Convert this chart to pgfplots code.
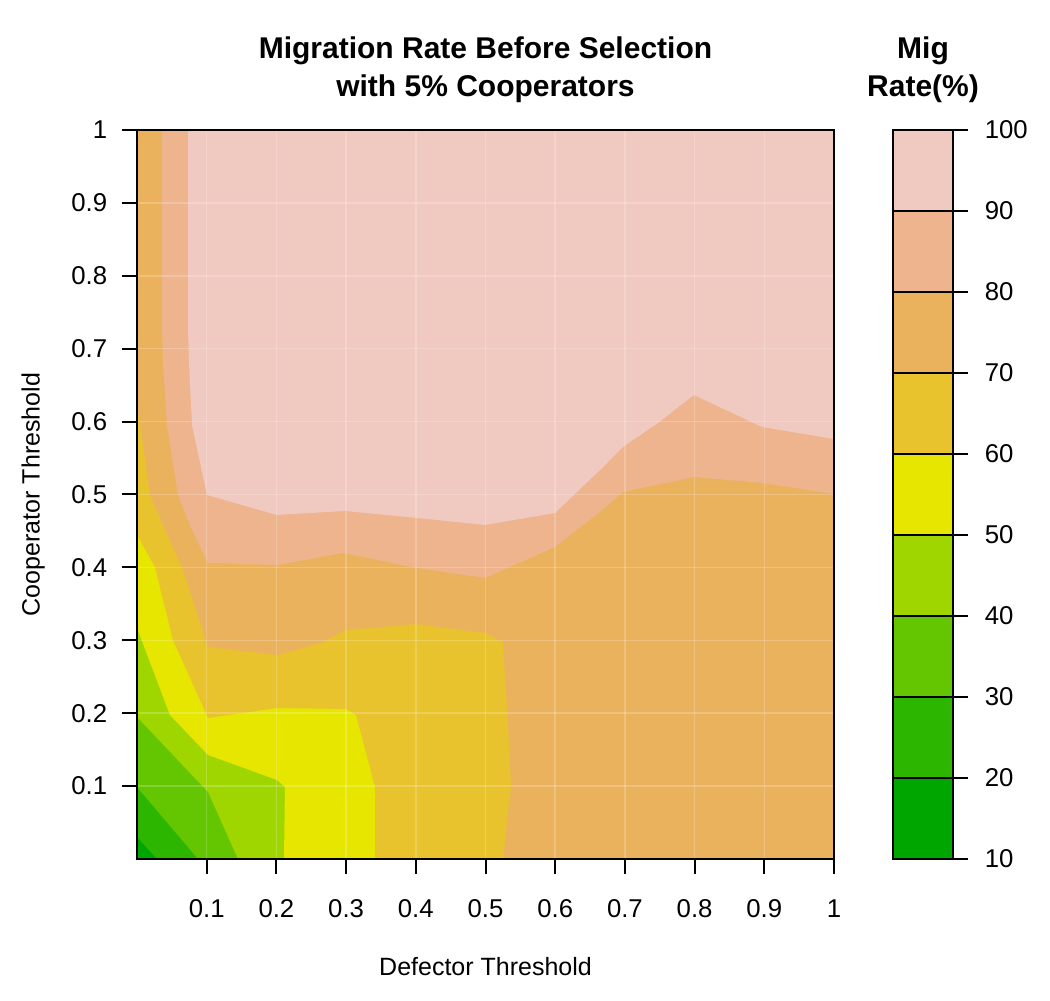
\documentclass[border=0pt]{standalone}
\usepackage{pgfplots}
\pgfplotsset{compat=1.18}
\usepackage{fontspec}
\setmainfont{Liberation Sans}
\definecolor{c1}{HTML}{00A600}
\definecolor{c2}{HTML}{2DB600}
\definecolor{c3}{HTML}{63C600}
\definecolor{c4}{HTML}{A0D600}
\definecolor{c5}{HTML}{E6E600}
\definecolor{c6}{HTML}{E8C32E}
\definecolor{c7}{HTML}{EBB25E}
\definecolor{c8}{HTML}{EDB48E}
\definecolor{c9}{HTML}{F0C9C0}
\begin{document}
\begin{tikzpicture}
\useasboundingbox (0,0) rectangle (420pt,400.4pt);
\begin{axis}[
  at={(54.8pt,56.8pt)}, anchor=south west,
  scale only axis, width=278.8pt, height=291.6pt,
  xmin=0, xmax=1, ymin=0, ymax=1,
  axis on top,
  xtick={0.1,0.2,0.3,0.4,0.5,0.6,0.7,0.8,0.9,1},
  ytick={0.1,0.2,0.3,0.4,0.5,0.6,0.7,0.8,0.9,1},
  tick align=outside, major tick length=6pt,
  xtick pos=left, ytick pos=left,
  tick style={black, line width=0.8pt},
  axis line style={line width=0.8pt},
  grid=major, grid style={white, opacity=0.2, line width=0.6pt},
  tick label style={font=\fontsize{10.3}{12}\selectfont},
  xticklabel style={yshift=-6.8pt},
  yticklabel style={xshift=-2.4pt},
  /pgf/number format/assume math mode=true,
  xlabel={Defector Threshold}, ylabel={Cooperator Threshold},
  label style={font=\fontsize{10}{12}\selectfont},
  xlabel style={at={(axis description cs:0.5,-0.148)}, anchor=center},
  ylabel style={at={(axis description cs:-0.149,0.5)}, anchor=center},
  title={Migration Rate Before Selection\\with 5\% Cooperators},
  title style={at={(axis description cs:0.5,1.0624)}, anchor=center, align=center, font=\bfseries\fontsize{12}{15}\selectfont},
]
% 10-20
\addplot[fill=c1, draw=none] coordinates {(0,0) (1,0) (1,1) (0,1)} -- cycle;
% >=20
\addplot[fill=c2, draw=none] coordinates {(0,0.0302) (0.0287,0) (1,0) (1,1) (0,1)} -- cycle;
% >=30
\addplot[fill=c3, draw=none] coordinates {(0,0.0988) (0.0875,0) (1,0) (1,1) (0,1)} -- cycle;
% >=40
\addplot[fill=c4, draw=none] coordinates {(0,0.1948) (0.1019,0.0919) (0.1449,0) (1,0) (1,1) (0,1)} -- cycle;
% >=50
\addplot[fill=c5, draw=none] coordinates {(0,0.3169) (0.0473,0.1975) (0.1019,0.1427) (0.2009,0.1084) (0.2123,0.0988) (0.2109,0) (1,0) (1,1) (0,1)} -- cycle;
% >=60
\addplot[fill=c6, draw=none] coordinates {(0,0.4444) (0.0258,0.4005) (0.0516,0.3004) (0.1019,0.1934) (0.2009,0.2071) (0.2999,0.2058) (0.3142,0.1975) (0.3415,0.0988) (0.3415,0) (1,0) (1,1) (0,1)} -- cycle;
% >=70
\addplot[fill=c7, draw=none] coordinates {(0,0.62) (0.0043,0.5981) (0.0187,0.4993) (0.0402,0.4513) (0.0646,0.4005) (0.1019,0.2908) (0.2009,0.2798) (0.2626,0.2963) (0.2999,0.3141) (0.4003,0.3224) (0.4993,0.31) (0.5251,0.2977) (0.5323,0.1866) (0.5366,0.0988) (0.5251,0) (1,0) (1,1) (0,1)} -- cycle;
% >=80
\addplot[fill=c8, draw=none] coordinates {(0.0359,1) (0.0359,0.7257) (0.0373,0.6804) (0.043,0.5953) (0.0588,0.4993) (0.0789,0.4513) (0.1019,0.406) (0.2009,0.4033) (0.2956,0.4198) (0.4017,0.3992) (0.4993,0.3855) (0.5997,0.428) (0.6643,0.476) (0.6973,0.5034) (0.7991,0.524) (0.8967,0.5158) (1,0.5007) (1,1)} -- cycle;
% >=90
\addplot[fill=c9, draw=none] coordinates {(0.0732,1) (0.0732,0.7257) (0.0746,0.6804) (0.0789,0.5953) (0.1004,0.4993) (0.2009,0.4719) (0.2984,0.4774) (0.4017,0.4678) (0.4993,0.4582) (0.5997,0.4746) (0.6643,0.5336) (0.6973,0.5652) (0.7475,0.5981) (0.7991,0.6365) (0.8967,0.5926) (1,0.5761) (1,1)} -- cycle;
\end{axis}
\begin{axis}[
  at={(357.2pt,56.8pt)}, anchor=south west,
  scale only axis, width=24pt, height=291.6pt,
  xmin=0, xmax=1, ymin=10, ymax=100,
  axis on top,
  xtick=\empty,
  ytick={10,20,30,40,50,60,70,80,90,100},
  ytick pos=right, yticklabel pos=right,
  tick align=outside, major tick length=6pt,
  tick style={black, line width=0.8pt},
  axis line style={line width=0.8pt},
  tick label style={font=\fontsize{10.3}{12}\selectfont},
  yticklabel style={xshift=3.2pt},
  /pgf/number format/assume math mode=true,
  title={Mig\\Rate(\%)},
  title style={at={(axis description cs:0.5,1.0624)}, anchor=center, align=center, font=\bfseries\fontsize{12}{15}\selectfont},
]
\addplot[fill=c1, draw=black, line width=0.6pt] coordinates {(0,10) (1,10) (1,20) (0,20)} -- cycle;
\addplot[fill=c2, draw=black, line width=0.6pt] coordinates {(0,20) (1,20) (1,30) (0,30)} -- cycle;
\addplot[fill=c3, draw=black, line width=0.6pt] coordinates {(0,30) (1,30) (1,40) (0,40)} -- cycle;
\addplot[fill=c4, draw=black, line width=0.6pt] coordinates {(0,40) (1,40) (1,50) (0,50)} -- cycle;
\addplot[fill=c5, draw=black, line width=0.6pt] coordinates {(0,50) (1,50) (1,60) (0,60)} -- cycle;
\addplot[fill=c6, draw=black, line width=0.6pt] coordinates {(0,60) (1,60) (1,70) (0,70)} -- cycle;
\addplot[fill=c7, draw=black, line width=0.6pt] coordinates {(0,70) (1,70) (1,80) (0,80)} -- cycle;
\addplot[fill=c8, draw=black, line width=0.6pt] coordinates {(0,80) (1,80) (1,90) (0,90)} -- cycle;
\addplot[fill=c9, draw=black, line width=0.6pt] coordinates {(0,90) (1,90) (1,100) (0,100)} -- cycle;
\end{axis}
\end{tikzpicture}
\end{document}
